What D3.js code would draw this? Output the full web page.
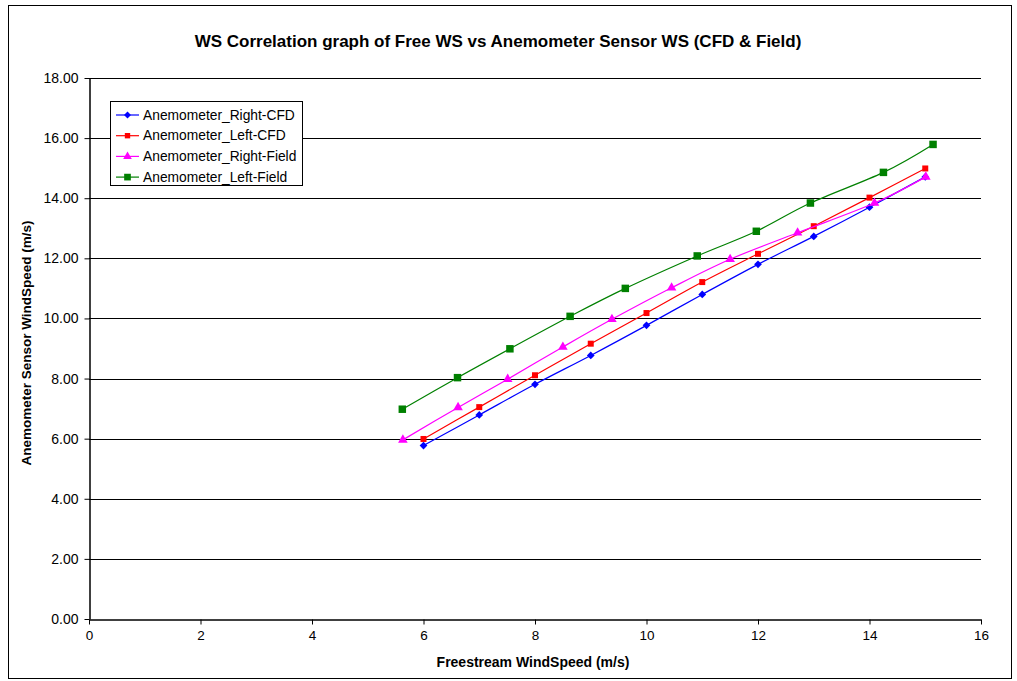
<!DOCTYPE html>
<html><head><meta charset="utf-8">
<script src="https://cdn.jsdelivr.net/npm/d3@7"></script>
<style>body{margin:0;background:#fff}svg{display:block;font-family:"Liberation Sans",Arial,sans-serif}</style>
</head><body><svg id="c" width="1017" height="681"></svg>
<script>
const seriesNames = ["Anemometer_Right-CFD","Anemometer_Left-CFD","Anemometer_Right-Field","Anemometer_Left-Field"];
const rightCfdX = [6,7,8,9,10,11,12,13,14,15];
const rightCfdY = [5.77,6.79,7.81,8.77,9.77,10.80,11.80,12.73,13.70,14.71];
const leftCfdX = [6,7,8,9,10,11,12,13,14,15];
const leftCfdY = [5.99,7.05,8.11,9.16,10.18,11.21,12.15,13.07,14.02,14.99];
const rightFieldX = [5.63,6.62,7.51,8.50,9.38,10.45,11.50,12.71,14.09,15.01];
const rightFieldY = [5.96,7.04,7.98,9.05,9.97,11.02,11.97,12.85,13.84,14.71];
const leftFieldX = [5.62,6.61,7.55,8.63,9.62,10.91,11.97,12.94,14.25,15.14];
const leftFieldY = [6.98,8.03,8.99,10.07,11.00,12.08,12.90,13.84,14.86,15.79];
const xTicks = [0,2,4,6,8,10,12,14,16];
const yTicks = [0,2,4,6,8,10,12,14,16,18];

const colors = ["#0000FF","#FF0000","#FF00FF","#008000"];
const shapes = [d3.symbolSquare, d3.symbolSquare, d3.symbolTriangle, d3.symbolSquare];
const rotations = [45, 0, 0, 0];
const sizes = [30, 36, 40, 56];
const series = [
  rightCfdX.map((x,i)=>[x,rightCfdY[i]]),
  leftCfdX.map((x,i)=>[x,leftCfdY[i]]),
  rightFieldX.map((x,i)=>[x,rightFieldY[i]]),
  leftFieldX.map((x,i)=>[x,leftFieldY[i]])
];

const svg = d3.select("#c");
svg.append("rect").attr("x",8.5).attr("y",5.5).attr("width",1003).attr("height",673)
  .attr("fill","#fff").attr("stroke","#000").attr("stroke-width",1);

const L=89, R=981, T=78, B=619;
const x = d3.scaleLinear().domain([0,16]).range([L,R]);
const y = d3.scaleLinear().domain([0,18]).range([B,T]);

svg.append("g").selectAll("line").data(yTicks.filter(d=>d>0)).join("line")
  .attr("x1",L).attr("x2",R).attr("y1",d=>Math.round(y(d))+0.5).attr("y2",d=>Math.round(y(d))+0.5)
  .attr("stroke","#000").attr("stroke-width",1);

const xAxis = svg.append("g").attr("transform",`translate(0,${B+0.5})`)
  .call(d3.axisBottom(x).tickValues(xTicks).tickSize(5).tickSizeOuter(0).tickPadding(6).tickFormat(d3.format("d")));
const yAxis = svg.append("g").attr("transform",`translate(${L+0.5},0)`)
  .call(d3.axisLeft(y).tickValues(yTicks).tickSize(5).tickSizeOuter(0).tickPadding(6).tickFormat(d3.format(".2f")));
[xAxis,yAxis].forEach(a=>{
  a.selectAll("text").attr("font-size",13.5).attr("fill","#000").attr("font-family","Liberation Sans, Arial, sans-serif");
  a.selectAll("line,path").attr("stroke","#000");
});
yAxis.selectAll("text").attr("font-size",14);
xAxis.select(".domain").attr("stroke-width",1.5);
yAxis.select(".domain").attr("stroke-width",1.5);

const line = d3.line().x(d=>x(d[0])).y(d=>y(d[1])).curve(d3.curveCatmullRom.alpha(0));
series.forEach((s,i)=>{
  svg.append("path").attr("d",line(s)).attr("fill","none").attr("stroke",colors[i]).attr("stroke-width",1.2);
  svg.append("g").selectAll("path").data(s).join("path")
    .attr("transform",d=>`translate(${x(d[0])},${y(d[1])}) rotate(${rotations[i]})`)
    .attr("d",d3.symbol().type(shapes[i]).size(sizes[i])).attr("fill",colors[i]);
});

svg.append("text").attr("x",498).attr("y",47).attr("text-anchor","middle")
  .attr("font-size",17).attr("font-weight","bold").text("WS Correlation graph of Free WS vs Anemometer Sensor WS (CFD & Field)");
svg.append("text").attr("x",533).attr("y",667).attr("text-anchor","middle")
  .attr("font-size",14).attr("font-weight","bold").text("Freestream WindSpeed (m/s)");
svg.append("text").attr("transform","translate(31,343) rotate(-90)").attr("text-anchor","middle")
  .attr("font-size",13.5).attr("font-weight","bold").text("Anemometer Sensor WindSpeed (m/s)");

const lg = svg.append("g");
lg.append("rect").attr("x",110.5).attr("y",101.5).attr("width",192).attr("height",84)
  .attr("fill","#fff").attr("stroke","#000");
seriesNames.forEach((n,i)=>{
  const yy = 115 + i*20.7;
  lg.append("line").attr("x1",116).attr("x2",139).attr("y1",yy).attr("y2",yy).attr("stroke",colors[i]).attr("stroke-width",1.2);
  lg.append("path").attr("transform",`translate(127.5,${yy}) rotate(${rotations[i]})`).attr("d",d3.symbol().type(shapes[i]).size(sizes[i]*0.8)).attr("fill",colors[i]);
  lg.append("text").attr("x",143).attr("y",yy+4.5).attr("font-size",13.8).text(n);
});
</script></body></html>
